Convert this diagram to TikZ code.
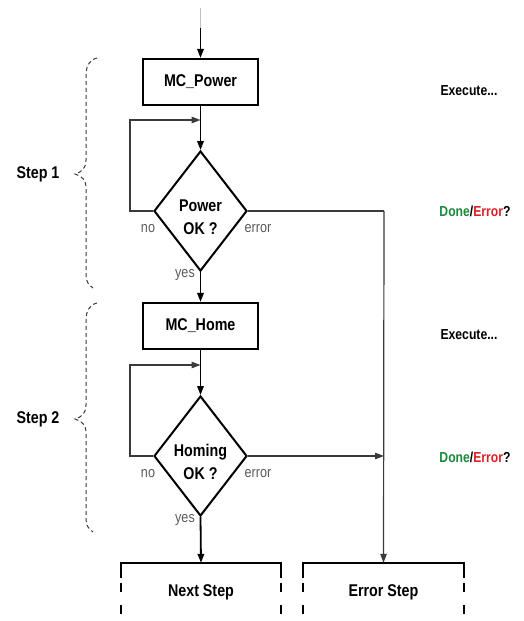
\documentclass[tikz,border=0pt]{standalone}
\usepackage{fontspec}
\setmainfont[FakeStretch=0.84]{Liberation Sans}
\usetikzlibrary{shapes.geometric,arrows.meta}
\definecolor{okgreen}{HTML}{1A8A3A}
\definecolor{errred}{HTML}{E01E24}
\definecolor{lbl}{HTML}{5A5A5A}
\definecolor{thinline}{HTML}{3A3A3A}
\begin{document}
\begin{tikzpicture}[x=1pt,y=-1pt,
  procbox/.style={draw,line width=2.2pt,minimum width=115pt,minimum height=46pt,inner sep=0pt,
    font=\bfseries\fontsize{17}{19}\selectfont},
  decision/.style={draw,diamond,aspect=0.775,line width=2pt,minimum width=93pt,minimum height=120pt,
    inner sep=0pt},
  dectext/.style={align=center,inner sep=0pt,font=\bfseries\fontsize{17}{23}\selectfont},
  openbox/.style={minimum height=58pt,inner sep=0pt,font=\bfseries\fontsize{17}{19}\selectfont},
  openedge/.style={line width=2pt},
  opendash/.style={line width=2pt,dash pattern=on 9pt off 13pt},
  mainarrow/.style={line width=1.8pt,-{Triangle[length=9pt,width=6.5pt]}},
  thinarrow/.style={line width=1.2pt,draw=thinline,-{Triangle[length=9pt,width=6.5pt]}},
  thinpath/.style={line width=1.2pt,draw=thinline},
  branch/.style={text=lbl,font=\fontsize{15}{17}\selectfont,inner sep=0pt},
  steplabel/.style={font=\bfseries\fontsize{17}{19}\selectfont,inner sep=0pt},
  sidenote/.style={font=\bfseries\fontsize{14.5}{16}\selectfont,inner sep=0pt},
  bracestyle/.style={draw=thinline,line width=1pt,dash pattern=on 4pt off 3pt}
]
\useasboundingbox (0,0) rectangle (523,621);

% nodes
\node[procbox] (power) at (200.5,82) {MC\_Power};
\node[decision] (pok) at (200.5,211) {};
\node[dectext] (pokt) at (200.5,217) {Power\\OK ?};
\node[procbox] (home) at (200.5,326) {MC\_Home};
\node[decision] (hok) at (200.5,456) {};
\node[dectext] (hokt) at (200.5,462) {Homing\\OK ?};
\node[openbox,minimum width=160pt] (nxt) at (201,592) {Next Step};
\node[openbox,minimum width=161pt] (err) at (383.5,592) {Error Step};

\coordinate (top0) at (200.5,8);
\coordinate (top1) at (200.5,28);
\coordinate (j1) at (200.5,120);
\coordinate (j2) at (200.5,365);
\coordinate (e1) at (384,211);
\coordinate (e2) at (384,456);

% open bottom boxes
\draw[openedge] ([yshift=-15pt]nxt.north west) -- (nxt.north west) -- (nxt.north east) -- ([yshift=-15pt]nxt.north east);
\draw[opendash] ([yshift=-20pt]nxt.north west) -- (nxt.south west);
\draw[opendash] ([yshift=-20pt]nxt.north east) -- (nxt.south east);
\draw[openedge] ([yshift=-15pt]err.north west) -- (err.north west) -- (err.north east) -- ([yshift=-15pt]err.north east);
\draw[opendash] ([yshift=-20pt]err.north west) -- (err.south west);
\draw[opendash] ([yshift=-20pt]err.north east) -- (err.south east);

% main flow
\draw[line width=1pt,draw=black!25] (top0) -- (top1);
\draw[mainarrow] (top1) -- (power.north);
\draw[mainarrow] (power.south) -- (pok.north);
\draw[mainarrow] (pok.south) -- (home.north);
\draw[mainarrow] (home.south) -- (hok.north);
\draw[mainarrow] (hok.south) -- (nxt.north);

% retry loops
\draw[thinarrow] (pok.west) -- ++(-23,0) |- (j1);
\draw[thinarrow] (hok.west) -- ++(-23,0) |- (j2);

% error paths
\draw[thinpath] (pok.east) -- (e1);
\draw[thinarrow] (e1) -- (err.north);
\draw[thinarrow] (hok.east) -- (e2);

% branch labels
\node[branch] (no1) at (148,229) {no};
\node[branch] (er1) at (258,229) {error};
\node[branch] (ye1) at (185,275) {yes};
\node[branch] (no2) at (148,474) {no};
\node[branch] (er2) at (258,474) {error};
\node[branch] (ye2) at (185,520) {yes};

% step braces
\draw[bracestyle] (97,58) .. controls (89,60) and (86,66) .. (86,76) -- (86,160)
  .. controls (86,168) and (82,172) .. (75,174) .. controls (82,176) and (86,180) .. (86,188)
  -- (86,275) .. controls (86,282) and (89,285) .. (93,288);
\draw[bracestyle] (97,303) .. controls (89,305) and (86,311) .. (86,321) -- (86,405)
  .. controls (86,413) and (82,417) .. (75,419) .. controls (82,421) and (86,425) .. (86,433)
  -- (86,519) .. controls (86,526) and (89,529) .. (93,532);
\node[steplabel] (s1) at (38,174) {Step 1};
\node[steplabel] (s2) at (38,419) {Step 2};

% side notes
\node[sidenote] (ex1) at (469,91) {Execute...};
\node[sidenote] (de1) at (475,211) {\textcolor{okgreen}{Done}/\textcolor{errred}{Error}?};
\node[sidenote] (ex2) at (469,335) {Execute...};
\node[sidenote] (de2) at (475,457) {\textcolor{okgreen}{Done}/\textcolor{errred}{Error}?};
\end{tikzpicture}
\end{document}
